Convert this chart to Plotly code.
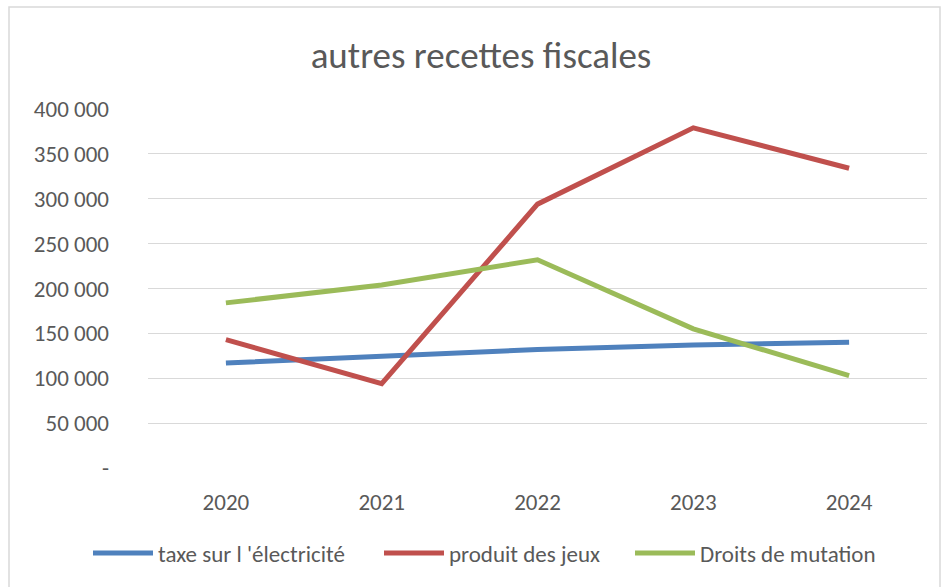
import plotly.graph_objects as go

years = ["2020", "2021", "2022", "2023", "2024"]
taxe_electricite = [117000, 125000, 132000, 137000, 140000]
produit_jeux = [143000, 94000, 294000, 379000, 334000]
droits_mutation = [184000, 204000, 232000, 155000, 103000]

y_tickvals = [0, 50000, 100000, 150000, 200000, 250000, 300000, 350000, 400000]
y_ticktext = ["-", "50 000", "100 000", "150 000", "200 000", "250 000", "300 000", "350 000", "400 000"]

series = [
    ("taxe sur l 'électricité", taxe_electricite, "#4F81BD", "legend", 88),
    ("produit des jeux", produit_jeux, "#C0504D", "legend2", 379),
    ("Droits de mutation", droits_mutation, "#9BBB59", "legend3", 630),
]

FONT = "Carlito, Calibri, 'Open Sans', sans-serif"
TXT = "#595959"
W, H = 943, 587
L, R, T, B = 148, 927, 109, 468

fig = go.Figure()
legends = {}
for name, vals, col, lg, lx in series:
    fig.add_trace(go.Scatter(x=years, y=vals, name=name, mode="lines",
                             line=dict(color=col, width=5), legend=lg))
    legends[lg] = dict(orientation="h", x=(lx - L) / (R - L), xanchor="left",
                       y=(B - 553) / (B - T), yanchor="middle", itemwidth=60,
                       font=dict(size=23, color=TXT), bgcolor="rgba(0,0,0,0)")

fig.update_layout(
    width=W, height=H,
    margin=dict(l=L, r=W - R, t=T, b=H - B),
    paper_bgcolor="white", plot_bgcolor="white",
    font=dict(family=FONT, color=TXT, size=23),
    title=dict(text="autres recettes fiscales", x=481 / W, xanchor="center",
               y=1 - 55 / H, yanchor="middle", font=dict(size=37, color=TXT)),
    xaxis=dict(showgrid=False, showline=False, ticks="", ticklabelstandoff=18,
               range=[-0.5, 4.5], tickfont=dict(size=23, color=TXT)),
    yaxis=dict(range=[0, 400000], tickvals=y_tickvals, ticktext=y_ticktext,
               showgrid=True, gridcolor="#D9D9D9", gridwidth=1.3, zeroline=False,
               showline=False, ticks="", ticklabelstandoff=38,
               tickfont=dict(size=23, color=TXT)),
    showlegend=True,
    **legends,
)
x0 = (9 - L) / (R - L)
x1 = (940 - L) / (R - L)
y1 = (B - 7) / (B - T)
y0 = (B - 600) / (B - T)
fig.add_shape(type="rect", xref="paper", yref="paper", x0=x0, x1=x1, y0=y0, y1=y1,
              line=dict(color="#D9D9D9", width=1.5), fillcolor="rgba(0,0,0,0)", layer="below")

fig.write_html("out.html", config={"displayModeBar": False},
               post_script="document.body.style.margin='0';")
